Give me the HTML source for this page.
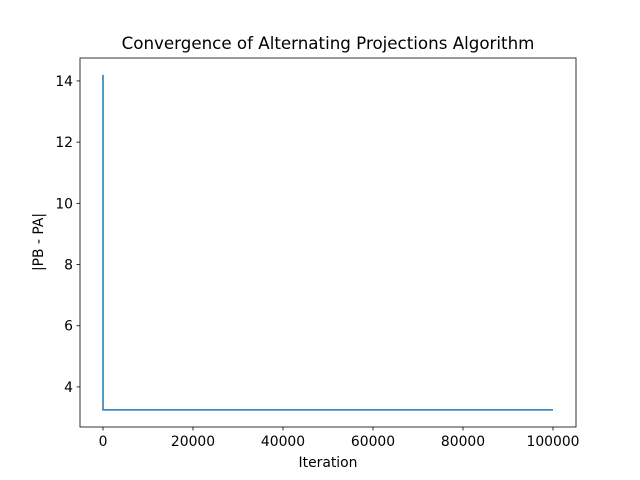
<!DOCTYPE html>
<html><head><meta charset="utf-8"><style>
body{margin:0;background:#fff;font-family:"DejaVu Sans",sans-serif}
svg text{font-family:"DejaVu Sans",sans-serif}
</style></head><body>
<svg id="chart" width="640" height="480" xmlns="http://www.w3.org/2000/svg" style="display:block">
<rect width="640" height="480" fill="#fff"/>
<text x="328" y="49" text-anchor="middle" font-size="16.7" fill="#000">Convergence of Alternating Projections Algorithm</text>
<g id="axes"></g>
<text x="328" y="467" text-anchor="middle" font-size="13.9" fill="#000">Iteration</text>
<text transform="translate(43,242) rotate(-90)" text-anchor="middle" font-size="13.9" fill="#000">|PB - PA|</text>
</svg>
<script>
const iterations=[0,1,100000];
const values=[14.2,3.25,3.25];
const xTicks=[0,20000,40000,60000,80000,100000];
const yTicks=[4,6,8,10,12,14];
const L=80,R=576,T=58,B=427;
const xMin=-5111,xMax=105111,yMin=2.69,yMax=14.75;
const xs=v=>L+(v-xMin)/(xMax-xMin)*(R-L);
const ys=v=>B-(v-yMin)/(yMax-yMin)*(B-T);
const NS="http://www.w3.org/2000/svg";
const g=document.getElementById('axes');
function mk(t,a){const e=document.createElementNS(NS,t);for(const k in a)e.setAttribute(k,a[k]);return e;}
xTicks.forEach(v=>{
 const x=xs(v);
 const tk=mk('line',{x1:x,x2:x,y1:B,y2:B+3.5,stroke:'#000','stroke-width':0.8});
 
 
 g.appendChild(tk);
 const t=mk('text',{x:x,y:B+19,'text-anchor':'middle','font-size':13.9,fill:'#000'});
 t.textContent=v;
 
 
 g.appendChild(t);
});
yTicks.forEach(v=>{
 const y=ys(v);
 const tk=mk('line',{x1:L-3.5,x2:L,y1:y,y2:y,stroke:'#000','stroke-width':0.8});
 
 
 g.appendChild(tk);
 const t=mk('text',{x:L-7,y:y+5,'text-anchor':'end','font-size':13.9,fill:'#000'});
 t.textContent=v;
 
 
 g.appendChild(t);
});
const pts=iterations.map((v,i)=>xs(v)+','+ys(values[i])).join(' ');
const line=mk('polyline',{points:pts,fill:'none',stroke:'#1f77b4','stroke-width':1.5});


g.appendChild(line);
const frame=mk('rect',{x:L,y:T,width:R-L,height:B-T,fill:'none',stroke:'#000','stroke-width':0.8});


g.appendChild(frame);
</script>
</body></html>
